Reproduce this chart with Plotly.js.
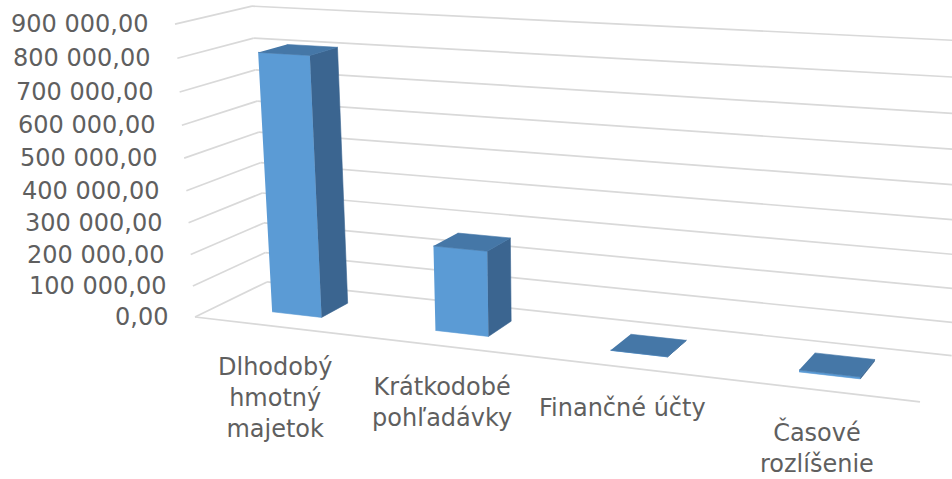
<!DOCTYPE html>
<html>
<head>
<meta charset="utf-8">
<script src="https://cdn.plot.ly/plotly-3.0.1.min.js"></script>
<style>
html,body{margin:0;padding:0;background:#fff;}
#chart{width:952px;height:479px;}
</style>
</head>
<body>
<div id="chart"></div>
<script>
// ---------------- data ----------------
var categories = ["Dlhodobý<br>hmotný<br>majetok", "Krátkodobé<br>pohľadávky", "Finančné účty", "Časové<br>rozlíšenie"];
var values = [808000, 263000, 600, 5500];
var tickValues = [0, 100000, 200000, 300000, 400000, 500000, 600000, 700000, 800000, 900000];
var tickLabels = ["0,00", "100 000,00", "200 000,00", "300 000,00", "400 000,00",
                  "500 000,00", "600 000,00", "700 000,00", "800 000,00", "900 000,00"];

// ---------------- 3-D perspective scale (world -> plot units) ----------------
// world: c = category position (0..n along the floor), d = depth (0 front .. 1 back), v = value
var unitV = 100000;                       // value per world unit of height
var origin = [195, 317];                  // front-left-bottom corner of the floor
var vpC = [-4389, -220], sC = -0.03414;   // vanishing point & scale along categories
var vpD = [1371, -256],  sD = 0.06527;    // vanishing point & scale along depth
var vpV = [563, 5705],   sV = -0.005727;  // vanishing point & scale along values
function proj(c, d, v) {
  var z = v / unitV;
  var xh = origin[0] + c * sC * vpC[0] + d * sD * vpD[0] + z * sV * vpV[0];
  var yh = origin[1] + c * sC * vpC[1] + d * sD * vpD[1] + z * sV * vpV[1];
  var w = 1 + c * sC + d * sD + z * sV;
  return [xh / w, yh / w];
}

// ---------------- style ----------------
var colFront = "#5B9BD5", colSide = "#3B6590", colTop = "#4577A7", gridCol = "#D9D9D9";
var barHalfW = 0.155, barD0 = 0.31, barD1 = 0.70;
var nCat = categories.length;
var fontTick = {family: "DejaVu Sans, sans-serif", size: 24, color: "#5F5F5F"};

var traces = [];

// gridlines: back wall, left wall, floor front edge
var gx = [], gy = [];
function seg(a, b) { gx.push(a[0], b[0], null); gy.push(a[1], b[1], null); }
tickValues.forEach(function (t) {
  seg(proj(0, 1, t), proj(nCat, 1, t));   // back wall
  seg(proj(0, 0, t), proj(0, 1, t));      // left wall
});
seg(proj(0, 0, 0), proj(nCat, 0, 0));     // floor front edge
traces.push({type: "scatter", mode: "lines", x: gx, y: gy,
             line: {color: gridCol, width: 1.7}, hoverinfo: "skip"});

// bars
var faces = {front: {x: [], y: []}, side: {x: [], y: []}, top: {x: [], y: []}};
function poly(f, pts) {
  pts.forEach(function (p) { f.x.push(p[0]); f.y.push(p[1]); });
  f.x.push(null); f.y.push(null);
}
values.forEach(function (v, i) {
  var c0 = i + 0.5 - barHalfW, c1 = i + 0.5 + barHalfW;
  poly(faces.front, [proj(c0, barD0, 0), proj(c1, barD0, 0), proj(c1, barD0, v), proj(c0, barD0, v)]);
  poly(faces.side,  [proj(c1, barD0, 0), proj(c1, barD1, 0), proj(c1, barD1, v), proj(c1, barD0, v)]);
  poly(faces.top,   [proj(c0, barD0, v), proj(c1, barD0, v), proj(c1, barD1, v), proj(c0, barD1, v)]);
});
[["front", colFront], ["side", colSide], ["top", colTop]].forEach(function (p) {
  traces.push({type: "scatter", mode: "lines", x: faces[p[0]].x, y: faces[p[0]].y,
               fill: "toself", fillcolor: p[1], line: {color: p[1], width: 0.6},
               hoverinfo: "skip"});
});

// labels
var ann = [];
tickValues.forEach(function (t, n) {
  var p = proj(0, 0, t);
  ann.push({x: p[0], y: p[1], xref: "x", yref: "y", text: tickLabels[n], showarrow: false,
            xanchor: "right", yanchor: "middle", xshift: -25, font: fontTick});
});
categories.forEach(function (c, n) {
  var p = proj(n + 0.5, 0, 0);
  ann.push({x: p[0], y: p[1], xref: "x", yref: "y", text: c, showarrow: false,
            xanchor: "center", yanchor: "top", yshift: -25, font: fontTick});
});

var layout = {
  width: 952, height: 479,
  margin: {l: 0, r: 0, t: 0, b: 0},
  paper_bgcolor: "#fff", plot_bgcolor: "#fff",
  showlegend: false,
  xaxis: {range: [0, 952], visible: false, fixedrange: true},
  yaxis: {range: [479, 0], visible: false, fixedrange: true},
  annotations: ann
};

Plotly.newPlot("chart", traces, layout, {displayModeBar: false, staticPlot: true});
</script>
</body>
</html>
